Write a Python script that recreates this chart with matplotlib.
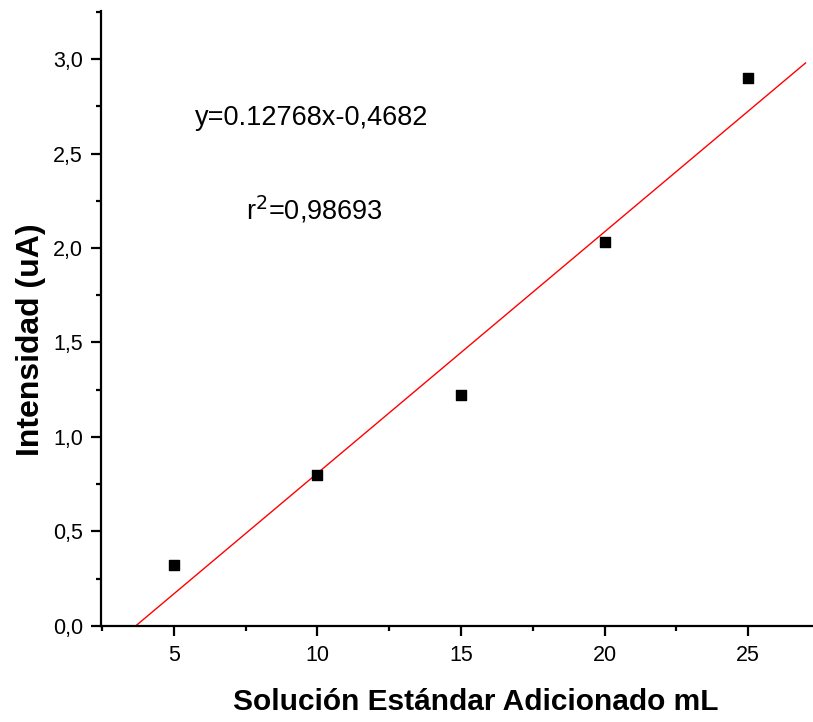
import numpy as np
import matplotlib.pyplot as plt
from matplotlib.ticker import MultipleLocator, FuncFormatter

plt.rcParams['font.family'] = ['Liberation Sans', 'DejaVu Sans']

# data
vol_ml = [5, 10, 15, 20, 25]
intensity = [0.32, 0.80, 1.22, 2.03, 2.90]
slope = 0.12768
intercept = -0.4682
r2_text = "0,98693"

fig = plt.figure(figsize=(8.13, 7.22), dpi=100)
ax = fig.add_axes([0.1242, 0.133, 0.8758, 0.852])

# fitted line from x-intercept to right end
x_fit = np.array([-intercept / slope, 27.0])
ax.plot(x_fit, slope * x_fit + intercept, color='red', linewidth=1)
ax.scatter(vol_ml, intensity, marker='s', s=60, color='black', zorder=3)

ax.set_xlim(2.46, 27.26)
ax.set_ylim(0, 3.255)

ax.spines['top'].set_visible(False)
ax.spines['right'].set_visible(False)
for s in ['left', 'bottom']:
    ax.spines[s].set_linewidth(1.6)

ax.xaxis.set_major_locator(MultipleLocator(5))
ax.xaxis.set_minor_locator(MultipleLocator(2.5))
ax.yaxis.set_major_locator(MultipleLocator(0.5))
ax.yaxis.set_minor_locator(MultipleLocator(0.25))
ax.yaxis.set_major_formatter(FuncFormatter(lambda v, p: f"{v:.1f}".replace('.', ',')))

ax.tick_params(which='major', direction='out', length=7, width=1.6, labelsize=15.5)
ax.tick_params(which='minor', direction='out', length=3.5, width=1.6)
ax.tick_params(axis='x', pad=7)
ax.tick_params(axis='y', pad=6)

ax.set_xlabel('Solución Estándar Adicionado mL', fontsize=21.5, fontweight='bold')
ax.set_ylabel('Intensidad (uA)', fontsize=23, fontweight='bold')
ax.xaxis.set_label_coords(0.527, -0.101)
ax.yaxis.set_label_coords(-0.077, 0.465)

ax.text(9.81, 2.69, "y=0.12768x-0,4682", fontsize=19.5, ha='center', va='center')
ax.text(9.9, 2.2, "r$^{2}$=" + r2_text, fontsize=19.5, ha='center', va='center')

fig.savefig('out.png', dpi=100)
